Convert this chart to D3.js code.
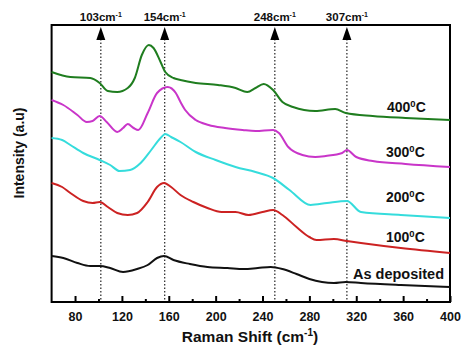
<!DOCTYPE html>
<html>
<head>
<meta charset="utf-8">
<script src="https://cdn.jsdelivr.net/npm/d3@7"></script>
<style>
  html, body { margin: 0; padding: 0; background: #fff; }
  svg text { font-family: "Liberation Sans", Arial, sans-serif; font-weight: bold; }
</style>
</head>
<body>
<svg id="chart" width="461" height="347"></svg>
<script>
// ---- data (Raman shift cm^-1, intensity a.u. with vertical offsets) ----
const asDeposited = [[60,46],[70,44],[82,39],[93,36],[101,36],[110,34],[121,30],[133,33],[142,37],[150,44],[156,46],[164,42],[178,38],[193,35],[210,34],[224,33],[236,34],[247,35],[257,33],[269,28],[280,23],[301,19],[311,20],[324,19],[358,17],[400,15]];
const t100 = [[60,119],[69,115],[76,109],[87,101],[95,99],[101,100],[108,95],[116,89],[125,87],[133,89],[142,100],[150,115],[156,119],[162,115],[170,107],[181,100],[193,94],[205,90],[217,90],[228,87],[240,90],[249,92],[257,87],[269,75],[280,65],[286,62],[301,63],[312,61],[324,59],[358,54],[400,49]];
const t200 = [[60,164],[69,162],[76,157],[87,149],[101,142],[110,137],[118,131],[127,132],[136,139],[145,152],[153,164],[157,168],[162,165],[170,160],[183,150],[200,142],[217,135],[234,130],[249,124],[263,112],[281,97],[295,99],[312,101],[324,90],[358,87],[400,84]];
const t300 = [[60,202],[70,197],[82,187],[90,180],[95,181],[101,186],[107,180],[116,170],[121,174],[125,178],[130,174],[134,172],[142,189],[150,209],[159,215],[166,209],[170,200],[174,192],[183,182],[194,177],[208,174],[223,172],[234,171],[249,172],[254,169],[262,155],[274,147],[285,145],[294,146],[308,149],[312,152],[320,145],[334,141],[362,138],[400,135]];
const t400 = [[60,230],[76,225],[93,224],[101,219],[108,211],[116,210],[125,214],[131,224],[137,247],[143,257],[147,254],[153,240],[157,230],[164,224],[170,222],[183,219],[202,217],[217,214],[227,210],[234,214],[241,218],[249,212],[257,200],[266,195],[285,191],[302,193],[311,189],[334,186],[362,184],[400,182]];

const seriesNames  = ["As deposited", "100", "200", "300", "400"];
const seriesValues = [asDeposited, t100, t200, t300, t400];
const seriesColors = ["#111111", "#cc2222", "#35dcdc", "#c935c9", "#1f7d1f"];

const xMajorTicks = [80, 120, 160, 200, 240, 280, 320, 360, 400];
const xMinorTicks = [60, 100, 140, 180, 220, 260, 300, 340, 380];

const peakLabels    = ["103", "154", "248", "307"];
const peakPositions = [102, 156.5, 250.5, 312];

// ---- layout ----
const svg = d3.select("#chart");
const mLeft = 51.6, mRight = 450, mTop = 25, mBottom = 302;

const x = d3.scaleLinear().domain([60, 400]).range([mLeft, mRight]);
const y = d3.scaleLinear().domain([0, 277]).range([mBottom, mTop]);

// frame
svg.append("rect")
  .attr("x", mLeft).attr("y", mTop)
  .attr("width", mRight - mLeft).attr("height", mBottom - mTop)
  .attr("fill", "none").attr("stroke", "#000").attr("stroke-width", 2);

// bottom axis: inward ticks
const gx = svg.append("g").attr("transform", `translate(0,${mBottom})`);
gx.call(d3.axisBottom(x).tickValues(xMajorTicks).tickSize(-6).tickPadding(10).tickFormat(d3.format("d")))
  .call(g => g.select(".domain").remove())
  .call(g => g.selectAll("line").attr("stroke", "#000").attr("stroke-width", 2))
  .call(g => g.selectAll("text").attr("font-size", 12.5).attr("fill", "#111")
        .attr("font-family", "Liberation Sans, Arial, sans-serif").attr("font-weight", "bold"));
svg.append("g").attr("transform", `translate(0,${mBottom})`)
  .call(d3.axisBottom(x).tickValues(xMinorTicks.filter(v => v > 60)).tickSize(-3).tickFormat(""))
  .call(g => g.select(".domain").remove())
  .call(g => g.selectAll("line").attr("stroke", "#000").attr("stroke-width", 2));

// peak marker lines + arrows + labels
peakPositions.forEach((p, i) => {
  const px = x(p);
  svg.append("line")
    .attr("x1", px).attr("x2", px).attr("y1", 39).attr("y2", mBottom - 1)
    .attr("stroke", "#333").attr("stroke-width", 1.3).attr("stroke-dasharray", "1.5,2");
  svg.append("path")
    .attr("d", `M${px},${mTop + 2} L${px - 4.5},${mTop + 15} L${px + 4.5},${mTop + 15} Z`)
    .attr("fill", "#000");
  const t = svg.append("text").attr("x", px).attr("y", 21)
    .attr("text-anchor", "middle").attr("font-size", 11.5).attr("fill", "#111");
  t.append("tspan").text(peakLabels[i] + "cm");
  t.append("tspan").attr("dy", -4).attr("font-size", 7).text("-1");
});

// curves
const line = d3.line().x(d => x(d[0])).y(d => y(d[1])).curve(d3.curveMonotoneX);
seriesValues.forEach((s, i) => {
  svg.append("path").datum(s)
    .attr("d", line)
    .attr("fill", "none")
    .attr("stroke", seriesColors[i])
    .attr("stroke-width", 2)
    .attr("stroke-linejoin", "round");
});

// curve labels
const labelPos = [[353, 279], [386, 242], [386, 202], [386, 157], [387, 112]];
seriesNames.forEach((n, i) => {
  const t = svg.append("text")
    .attr("x", labelPos[i][0]).attr("y", labelPos[i][1])
    .attr("font-size", 14).attr("fill", "#111");
  if (i === 0) {
    t.attr("font-size", 14.5).text(n);
  } else {
    t.append("tspan").text(n);
    t.append("tspan").attr("dy", -5).attr("font-size", 9.5).text("0");
    t.append("tspan").attr("dy", 5).text("C");
  }
});

// axis titles
const xt = svg.append("text").attr("x", 250).attr("y", 342)
  .attr("text-anchor", "middle").attr("font-size", 15.5).attr("fill", "#111");
xt.append("tspan").text("Raman Shift (cm");
xt.append("tspan").attr("dy", -6).attr("font-size", 10).text("-1");
xt.append("tspan").attr("dy", 6).text(")");

svg.append("text")
  .attr("transform", "translate(24,153) rotate(-90)")
  .attr("text-anchor", "middle").attr("font-size", 14).attr("fill", "#111")
  .text("Intensity (a.u)");
</script>
</body>
</html>
